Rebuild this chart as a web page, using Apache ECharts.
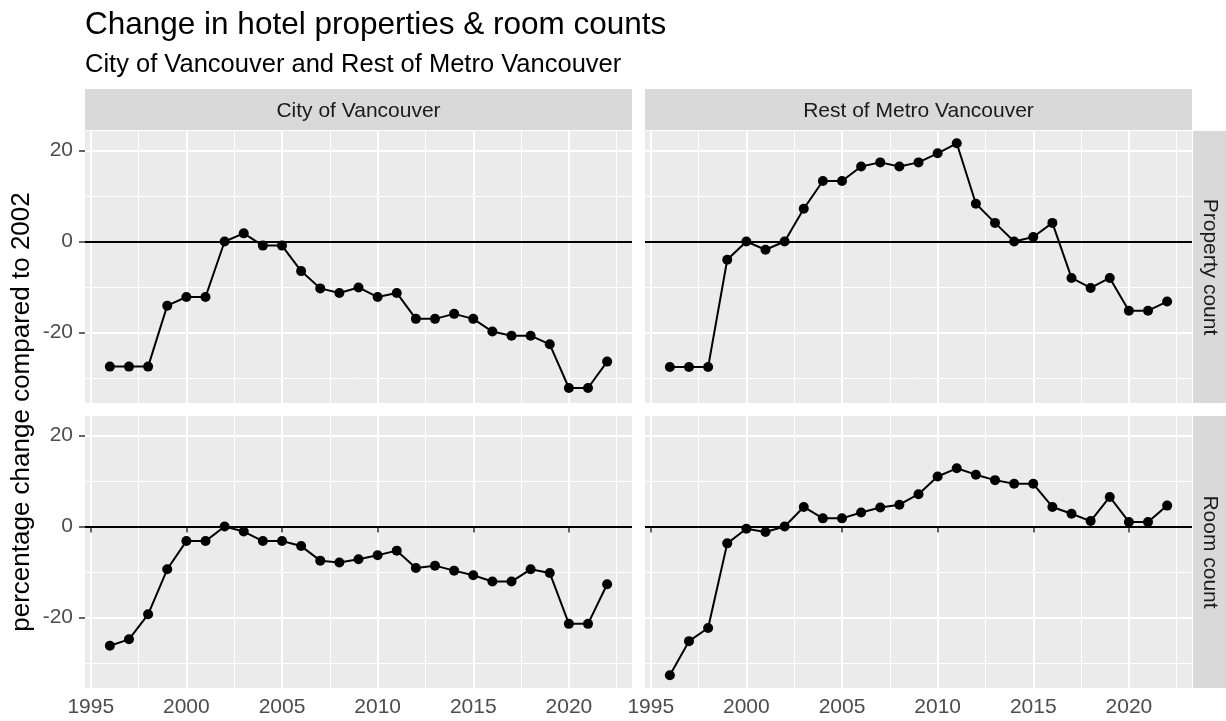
<!DOCTYPE html>
<html>
<head>
<meta charset="utf-8">
<script src="https://cdn.jsdelivr.net/npm/echarts@6/dist/echarts.min.js"></script>
<style>
  html, body { margin: 0; padding: 0; background: #fff; }
  #main { width: 1226px; height: 721px; }
</style>
</head>
<body>
<div id="main"></div>
<script>
var years = [1996, 1997, 1998, 1999, 2000, 2001, 2002, 2003, 2004, 2005, 2006, 2007, 2008, 2009,
  2010, 2011, 2012, 2013, 2014, 2015, 2016, 2017, 2018, 2019, 2020, 2021, 2022];
var cityProperty = [-27.5, -27.5, -27.5, -14.1, -12.2, -12.2, 0, 1.8, -0.9, -0.9, -6.5, -10.3, -11.3, -10.1,
  -12.2, -11.3, -17.0, -17.0, -15.9, -17.0, -19.8, -20.7, -20.7, -22.6, -32.2, -32.2, -26.4];
var restProperty = [-27.6, -27.6, -27.6, -4.0, 0, -1.8, 0, 7.2, 13.3, 13.3, 16.5, 17.4, 16.5, 17.4,
  19.4, 21.6, 8.3, 4.1, 0, 1.0, 4.1, -8.0, -10.2, -8.0, -15.2, -15.2, -13.2];
var cityRooms = [-26.2, -24.8, -19.3, -9.4, -3.2, -3.2, 0, -1.1, -3.2, -3.2, -4.3, -7.5, -7.9, -7.2,
  -6.3, -5.3, -9.1, -8.6, -9.7, -10.7, -12.1, -12.1, -9.4, -10.2, -21.4, -21.4, -12.7];
var restRooms = [-32.7, -25.2, -22.3, -3.7, -0.5, -1.2, 0, 4.3, 1.8, 1.8, 3.1, 4.2, 4.8, 7.1,
  11.0, 12.8, 11.4, 10.2, 9.4, 9.4, 4.3, 2.8, 1.2, 6.5, 1.0, 1.0, 4.6];

var columns = ["City of Vancouver", "Rest of Metro Vancouver"];
var rows = ["Property count", "Room count"];
var xMajor = [1995, 2000, 2005, 2010, 2015, 2020];
var xMinor = [1997.5, 2002.5, 2007.5, 2012.5, 2017.5, 2022.5];
var yMajor = [-20, 0, 20];
var yMinor = [-30, -10, 10];

var FONT = "'Liberation Sans', Arial, sans-serif";

// panel order: top-left, top-right, bottom-left, bottom-right
var panels = [
  { left: 85, top: 131, values: cityProperty },
  { left: 645, top: 131, values: restProperty },
  { left: 85, top: 416, values: cityRooms },
  { left: 645, top: 416, values: restRooms }
];
var PW = 547, PH = 272;

var grids = [], xAxes = [], yAxes = [], series = [];

panels.forEach(function (p, i) {
  var bottomRow = i >= 2, leftCol = i % 2 === 0;
  grids.push({
    left: p.left, top: p.top, width: PW, height: PH,
    show: true, backgroundColor: '#EBEBEB', borderWidth: 0
  });
  // major x
  xAxes.push({
    type: 'value', gridIndex: i, min: 1994.7, max: 2023.3,
    axisLine: { show: false },
    axisTick: { show: bottomRow, customValues: xMajor, length: 6, lineStyle: { color: '#333', width: 1.5 } },
    axisLabel: { show: bottomRow, customValues: xMajor, margin: 9, color: '#4D4D4D', fontSize: 21, fontFamily: FONT,
      formatter: function (v) { return String(v); } },
    splitLine: { show: true, lineStyle: { color: '#fff', width: 2 } }
  });
  // minor x
  xAxes.push({
    type: 'value', gridIndex: i, min: 1994.7, max: 2023.3,
    axisLine: { show: false },
    axisTick: { show: false, customValues: xMinor },
    axisLabel: { show: false, customValues: xMinor },
    splitLine: { show: true, lineStyle: { color: '#fff', width: 1 } }
  });
  yAxes.push({
    type: 'value', gridIndex: i, min: -35.5, max: 24.3,
    axisLine: { show: false },
    axisTick: { show: leftCol, customValues: yMajor, length: 6, lineStyle: { color: '#333', width: 1.5 } },
    axisLabel: { show: leftCol, customValues: yMajor, margin: 12, color: '#4D4D4D', fontSize: 21, fontFamily: FONT },
    splitLine: { show: true, lineStyle: { color: '#fff', width: 2 } }
  });
  yAxes.push({
    type: 'value', gridIndex: i, min: -35.5, max: 24.3,
    axisLine: { show: false },
    axisTick: { show: false, customValues: yMinor },
    axisLabel: { show: false, customValues: yMinor },
    splitLine: { show: true, lineStyle: { color: '#fff', width: 1 } }
  });
  series.push({
    type: 'line',
    xAxisIndex: 2 * i, yAxisIndex: 2 * i,
    data: years.map(function (y, k) { return [y, p.values[k]]; }),
    symbol: 'circle', symbolSize: 10,
    itemStyle: { color: '#000' },
    lineStyle: { color: '#000', width: 2 },
    animation: false,
    markLine: {
      silent: true, symbol: 'none', animation: false,
      label: { show: false },
      lineStyle: { color: '#000', width: 2, type: 'solid' },
      data: [{ yAxis: 0 }]
    }
  });
});

var graphics = [];
columns.forEach(function (name, c) {
  var x0 = panels[c].left;
  graphics.push({ type: 'rect', shape: { x: x0, y: 89, width: PW, height: 41 }, style: { fill: '#D9D9D9' } });
  graphics.push({ type: 'text', x: x0 + PW / 2, y: 111,
    style: { text: name, fill: '#1A1A1A', font: '21px ' + FONT, textAlign: 'center', textVerticalAlign: 'middle' } });
});
rows.forEach(function (name, r) {
  var y0 = panels[2 * r].top;
  graphics.push({ type: 'rect', shape: { x: 1193, y: y0, width: 33, height: PH }, style: { fill: '#D9D9D9' } });
  graphics.push({ type: 'text', x: 1210, y: y0 + PH / 2, rotation: -Math.PI / 2,
    style: { text: name, fill: '#1A1A1A', font: '21px ' + FONT, textAlign: 'center', textVerticalAlign: 'middle' } });
});
graphics.push({ type: 'text', x: 22, y: 412, rotation: Math.PI / 2,
  style: { text: 'percentage change compared to 2002', fill: '#000', font: '26px ' + FONT, textAlign: 'center', textVerticalAlign: 'middle' } });

var chart = echarts.init(document.getElementById('main'));
chart.setOption({
  animation: false,
  backgroundColor: '#fff',
  title: [
    { text: 'Change in hotel properties & room counts', left: 85, top: 9, padding: 0,
      textStyle: { fontSize: 31.5, fontWeight: 'normal', color: '#000', fontFamily: FONT } },
    { text: 'City of Vancouver and Rest of Metro Vancouver', left: 85, top: 52, padding: 0,
      textStyle: { fontSize: 25.5, fontWeight: 'normal', color: '#000', fontFamily: FONT } }
  ],
  grid: grids,
  xAxis: xAxes,
  yAxis: yAxes,
  series: series,
  graphic: graphics
});
</script>
</body>
</html>
